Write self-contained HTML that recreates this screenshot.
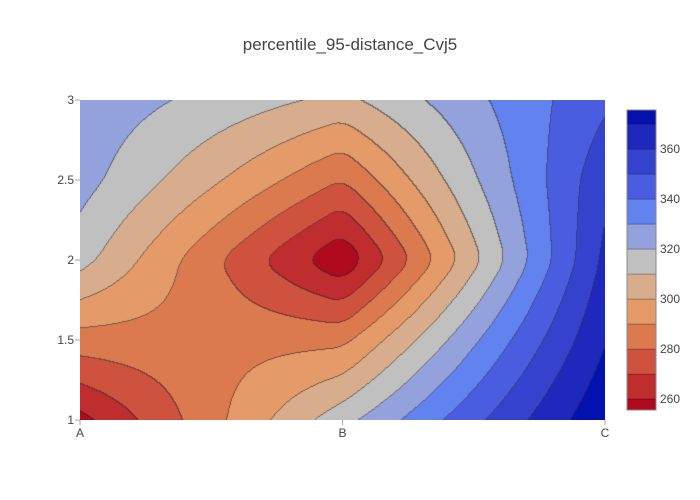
<!DOCTYPE html>
<html><head><meta charset="utf-8">
<style>
body{margin:0;background:#fff;}
#wrap{position:relative;width:700px;height:500px;font-family:"Liberation Sans",sans-serif;color:#444;}
canvas{position:absolute;left:80px;top:100px;}
svg{position:absolute;left:0;top:0;}
</style></head>
<body>
<div id="wrap">
<canvas id="cv" width="525" height="320"></canvas>
<svg id="sv" width="700" height="500"></svg>
</div>
<script>
const xCategories = ["A","B","C"];
const yValues = [1,1.5,2,2.5,3];
// z[yIndex][xIndex]
const zRowY1   = [257,316,378];
const zRowY1_5 = [286,287,369];
const zRowY2   = [314,251,362];
const zRowY2_5 = [324,280,357];
const zRowY3   = [327,307,348];
const zGrid = [zRowY1,zRowY1_5,zRowY2,zRowY2_5,zRowY3];
const contourStart = 260, contourSize = 10, contourEnd = 370;
const bandColors = ["#b00a1e","#bf2d2e","#cf523f","#dc7a4f","#e49a69","#d8ad8e","#c0c0c0","#93a1dc","#6282f0","#4a5de0","#3442ce","#1e28bd","#0411ae"];
const yTicks = [1,1.5,2,2.5,3];
const cbTicks = [260,280,300,320,340,360];
const cbMin = 255.6, cbMax = 375.6;

const PL=80,PR=605,PT=100,PB=420;
const xScale = i => PL + i*(PR-PL)/(xCategories.length-1);
const yScale = v => PB - (v-yValues[0])/(yValues[yValues.length-1]-yValues[0])*(PB-PT);

function lin(p,t){const n=p.length;let i=Math.min(Math.floor(t),n-2);if(i<0)i=0;const u=t-i;return p[i]*(1-u)+p[i+1]*u;}
function zAt(fx,fy){const col=zGrid.map(r=>lin(r,fx));return lin(col,fy);}
function band(z){let b=Math.floor((z-contourStart)/contourSize)+1; if(b<0)b=0; if(b>bandColors.length-1)b=bandColors.length-1; return b;}
function hex(c){return [parseInt(c.slice(1,3),16),parseInt(c.slice(3,5),16),parseInt(c.slice(5,7),16)];}
const rgb=bandColors.map(hex);

const cv=document.getElementById('cv'),ctx=cv.getContext('2d');
const W=cv.width,H=cv.height,img=ctx.createImageData(W,H);
const R=11,PW=W+2*R,PH=H+2*R;
let F=new Float64Array(PW*PH);
for(let py=0;py<PH;py++)for(let px=0;px<PW;px++){
  const gx=(px-R)/(W-1)*(xCategories.length-1), gy=(H-1-(py-R))/(H-1)*(yValues.length-1);
  F[py*PW+px]=zAt(gx,gy);
}
function blur(src,horiz){
  const out=new Float64Array(PW*PH);
  for(let a=0;a<(horiz?PH:PW);a++){
    const len=horiz?PW:PH;
    for(let b=0;b<len;b++){
      let s=0,c=0;
      for(let d=-R;d<=R;d++){const bb=Math.min(len-1,Math.max(0,b+d));s+=horiz?src[a*PW+bb]:src[bb*PW+a];c++;}
      if(horiz)out[a*PW+b]=s/c;else out[b*PW+a]=s/c;
    }
  }
  return out;
}
F=blur(blur(F,true),false);
const B=new Int16Array(W*H);
for(let py=0;py<H;py++)for(let px=0;px<W;px++)B[py*W+px]=band(F[(py+R)*PW+px+R]);
for(let py=0;py<H;py++)for(let px=0;px<W;px++){
  const k=py*W+px,b=B[k];let c=rgb[b].slice();
  const edge=(px<W-1&&B[k+1]!==b)||(py<H-1&&B[k+W]!==b);
  if(edge)c=c.map(v=>Math.round(v*0.45+20));
  img.data[k*4]=c[0];img.data[k*4+1]=c[1];img.data[k*4+2]=c[2];img.data[k*4+3]=255;
}
ctx.putImageData(img,0,0);

const sv=document.getElementById('sv'),NS="http://www.w3.org/2000/svg";
function mk(tag,attrs,parent){const e=document.createElementNS(NS,tag);for(const a in attrs)e.setAttribute(a,attrs[a]);(parent||sv).appendChild(e);return e;}
const title=mk('text',{x:350,y:50,'text-anchor':'middle','font-size':17,fill:'#444'});


title.textContent="percentile_95-distance_Cvj5";
yTicks.forEach(v=>{
  const y=yScale(v);
  const t=mk('line',{x1:75,x2:80,y1:y,y2:y,stroke:'#aaa','stroke-width':1});
  
  
  const l=mk('text',{x:74,y:y+4,'text-anchor':'end','font-size':12,fill:'#444'});
  
  
  l.textContent=String(v);
});
xCategories.forEach((c,i)=>{
  const x=xScale(i);
  const t=mk('line',{x1:x,x2:x,y1:420,y2:425,stroke:'#aaa','stroke-width':1});
  
  
  const l=mk('text',{x:x,y:437,'text-anchor':'middle','font-size':12,fill:'#444'});
  
  
  l.textContent=c;
});
const CBX=627,CBW=29,CBT=110,CBB=410;
const cbY=v=>CBB-(v-cbMin)/(cbMax-cbMin)*(CBB-CBT);
const cb=mk('g',{});


bandColors.forEach((c,i)=>{
  const lo=i===0?cbMin:contourStart+(i-1)*contourSize;
  const hi=i===bandColors.length-1?cbMax:contourStart+i*contourSize;
  const r=mk('rect',{x:CBX,y:cbY(hi),width:CBW,height:cbY(lo)-cbY(hi),fill:c,stroke:'rgba(0,0,0,0.35)','stroke-width':0.6},cb);
  
  
});
mk('rect',{x:CBX,y:CBT,width:CBW,height:CBB-CBT,fill:'none',stroke:'#888','stroke-width':1},cb);
cbTicks.forEach(v=>{
  const l=mk('text',{x:660,y:cbY(v)+4,'font-size':12,fill:'#444'},cb);
  
  
  l.textContent=String(v);
});
</script>
</body></html>
